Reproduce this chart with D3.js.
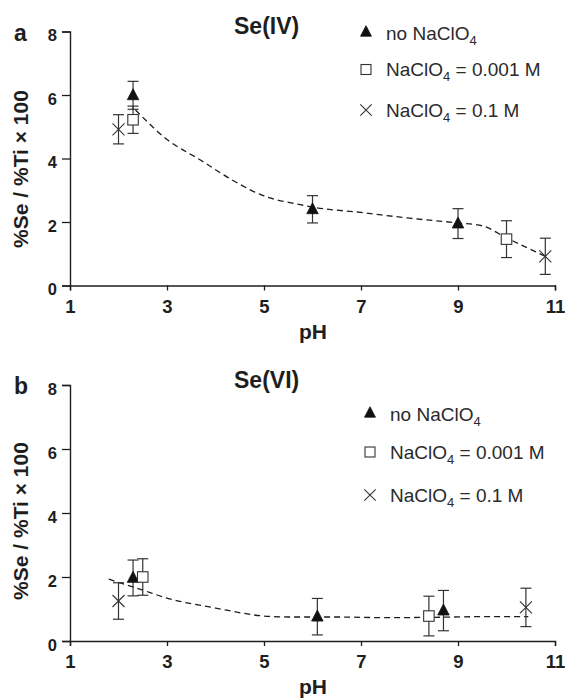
<!DOCTYPE html>
<html>
<head>
<meta charset="utf-8">
<script src="https://cdn.jsdelivr.net/npm/d3@7"></script>
<style>
  html, body { margin: 0; padding: 0; background: #fff; }
  svg { display: block; font-family: "Liberation Sans", Arial, sans-serif; }
</style>
</head>
<body>
<svg id="chart" width="565" height="700"></svg>
<script>
// ---------- data ----------
const xTicks = [1, 3, 5, 7, 9, 11];
const yTicks = [0, 2, 4, 6, 8];
const xTitle = "pH";
const yTitle = "%Se / %Ti \u00d7 100";
const legendLabels = ["no NaClO", "NaClO", "NaClO"];
const legendTails = ["", " = 0.001 M", " = 0.1 M"];

// Panel a: Se(IV)
const aTitle = "Se(IV)";
const aTriX = [2.3, 6.0, 9.0];
const aTriY = [5.99, 2.4, 1.95];
const aTriErr = [0.44, 0.43, 0.47];
const aSqX = [2.3, 10.0];
const aSqY = [5.22, 1.46];
const aSqErr = [0.43, 0.58];
const aCrX = [2.0, 10.8];
const aCrY = [4.92, 0.92];
const aCrErr = [0.46, 0.57];
const aCurveX = [2.35, 3.0, 3.68, 4.37, 5.0, 5.74, 6.0, 7.0, 8.0, 9.0, 9.5, 10.0, 10.8];
const aCurveY = [5.53, 4.6, 3.96, 3.3, 2.82, 2.55, 2.47, 2.3, 2.12, 1.97, 1.88, 1.5, 0.92];

// Panel b: Se(VI)
const bTitle = "Se(VI)";
const bTriX = [2.3, 6.1, 8.7];
const bTriY = [1.97, 0.76, 0.95];
const bTriErr = [0.56, 0.57, 0.63];
const bSqX = [2.5, 8.4];
const bSqY = [2.0, 0.78];
const bSqErr = [0.57, 0.62];
const bCrX = [2.0, 10.4];
const bCrY = [1.25, 1.05];
const bCrErr = [0.57, 0.6];
const bCurveX = [1.8, 2.5, 3.0, 4.0, 5.0, 5.5, 6.5, 7.5, 8.5, 9.5, 10.45];
const bCurveY = [1.93, 1.59, 1.34, 1.03, 0.78, 0.75, 0.75, 0.73, 0.74, 0.76, 0.76];

// ---------- drawing ----------
const svg = d3.select("#chart");
svg.append("rect").attr("width", 565).attr("height", 700).attr("fill", "#fff");

const ink = "#1e1e1e";

function panel(cfg) {
  const g = svg.append("g");
  const x = d3.scaleLinear().domain([1, 11]).range([70, 555]);
  const y = d3.scaleLinear().domain([0, 8]).range([cfg.bottom, cfg.top]);

  // axes
  const xAxis = g.append("g").attr("transform", `translate(0,${cfg.bottom})`)
    .call(d3.axisBottom(x).tickValues(xTicks).tickSize(5).tickPadding(9).tickFormat(d3.format("d")));
  const yAxis = g.append("g").attr("transform", `translate(70,0)`)
    .call(d3.axisLeft(y).tickValues(yTicks).tickSize(8).tickPadding(5).tickFormat(d3.format("d")));
  [xAxis, yAxis].forEach(ax => {
    ax.select(".domain").attr("stroke", ink).attr("stroke-width", 1.4);
    ax.selectAll(".tick line").attr("stroke", ink).attr("stroke-width", 1.3);
    ax.selectAll(".tick text").attr("fill", ink).attr("font-weight", "bold")
      .attr("font-family", "Liberation Sans, Arial, sans-serif");
  });
  xAxis.selectAll(".tick text").attr("font-size", 18.5);
  yAxis.selectAll(".tick text").attr("font-size", 16.5).attr("dy", "0.55em");

  // axis titles
  g.append("text").attr("x", 313).attr("y", cfg.bottom + 53)
    .attr("text-anchor", "middle").attr("font-size", 21).attr("font-weight", "bold")
    .attr("fill", ink).text(xTitle);
  g.append("text").attr("transform", `translate(28,${cfg.ylabelY}) rotate(-90)`)
    .attr("text-anchor", "middle").attr("font-size", 21).attr("font-weight", "bold")
    .attr("fill", ink).text(yTitle);

  // panel letter and title
  g.append("text").attr("x", 14).attr("y", cfg.top + 9).attr("font-size", 23)
    .attr("font-weight", "bold").attr("fill", ink).text(cfg.letter);
  g.append("text").attr("x", 234).attr("y", cfg.top + 2.5).attr("font-size", 23)
    .attr("font-weight", "bold").attr("fill", ink).text(cfg.title);

  // dashed fit curve
  const pts = cfg.cx.map((v, i) => [v, cfg.cy[i]]);
  g.append("path").datum(pts)
    .attr("d", d3.line().x(d => x(d[0])).y(d => y(d[1])).curve(d3.curveMonotoneX))
    .attr("fill", "none").attr("stroke", ink).attr("stroke-width", 1.3)
    .attr("stroke-dasharray", "6,4");

  // error bars
  const series = [
    { xs: cfg.triX, ys: cfg.triY, es: cfg.triErr, kind: "tri" },
    { xs: cfg.sqX, ys: cfg.sqY, es: cfg.sqErr, kind: "sq" },
    { xs: cfg.crX, ys: cfg.crY, es: cfg.crErr, kind: "cr" }
  ];
  series.forEach(s => {
    s.xs.forEach((xv, i) => {
      const px = x(xv), y1 = y(s.ys[i] + s.es[i]), y0 = y(s.ys[i] - s.es[i]);
      const eb = g.append("g").attr("stroke", "#333").attr("stroke-width", 1.2);
      eb.append("line").attr("x1", px).attr("x2", px).attr("y1", y1).attr("y2", y0);
      eb.append("line").attr("x1", px - 5.5).attr("x2", px + 5.5).attr("y1", y1).attr("y2", y1);
      eb.append("line").attr("x1", px - 5.5).attr("x2", px + 5.5).attr("y1", y0).attr("y2", y0);
    });
  });
  // markers
  series.forEach(s => {
    s.xs.forEach((xv, i) => drawMarker(g, s.kind, x(xv), y(s.ys[i]), 1));
  });

  // legend
  const lg = g.append("g");
  const rows = ["tri", "sq", "cr"];
  rows.forEach((k, i) => {
    const by = cfg.legY[i];
    drawMarker(lg, k, cfg.legX, by - 6.5 - (k === "tri" ? 1.5 : 0), 0.95);
    const t = lg.append("text").attr("x", cfg.legX + 20).attr("y", by)
      .attr("font-size", 19).attr("fill", "#2a2a2a");
    t.append("tspan").text(legendLabels[i]);
    t.append("tspan").attr("font-size", 13).attr("dy", 5).text("4");
    if (legendTails[i]) t.append("tspan").attr("dy", -5).text(legendTails[i]);
  });
}

function drawMarker(g, kind, cx, cy, s) {
  if (kind === "tri") {
    const w = 11.5 * s, h = 11 * s;
    g.append("path")
      .attr("d", `M${cx},${cy - h * 0.6}L${cx + w / 2},${cy + h * 0.4}L${cx - w / 2},${cy + h * 0.4}Z`)
      .attr("fill", "#111").attr("stroke", "#111").attr("stroke-width", 0.8);
  } else if (kind === "sq") {
    const a = 10.5 * s;
    g.append("rect").attr("x", cx - a / 2).attr("y", cy - a / 2).attr("width", a).attr("height", a)
      .attr("fill", "#fff").attr("stroke", "#333").attr("stroke-width", 1.1);
  } else {
    const r = 6 * s;
    g.append("path")
      .attr("d", `M${cx - r},${cy - r}L${cx + r},${cy + r}M${cx - r},${cy + r}L${cx + r},${cy - r}`)
      .attr("stroke", "#333").attr("stroke-width", 1.1).attr("fill", "none");
  }
}

panel({
  letter: "a", title: aTitle, top: 31.5, bottom: 285.5, ylabelY: 169,
  triX: aTriX, triY: aTriY, triErr: aTriErr,
  sqX: aSqX, sqY: aSqY, sqErr: aSqErr,
  crX: aCrX, crY: aCrY, crErr: aCrErr,
  cx: aCurveX, cy: aCurveY,
  legX: 366, legY: [40, 76, 116.5]
});
panel({
  letter: "b", title: bTitle, top: 385, bottom: 641, ylabelY: 521,
  triX: bTriX, triY: bTriY, triErr: bTriErr,
  sqX: bSqX, sqY: bSqY, sqErr: bSqErr,
  crX: bCrX, crY: bCrY, crErr: bCrErr,
  cx: bCurveX, cy: bCurveY,
  legX: 370, legY: [421, 458.5, 501.5]
});
</script>
</body>
</html>
